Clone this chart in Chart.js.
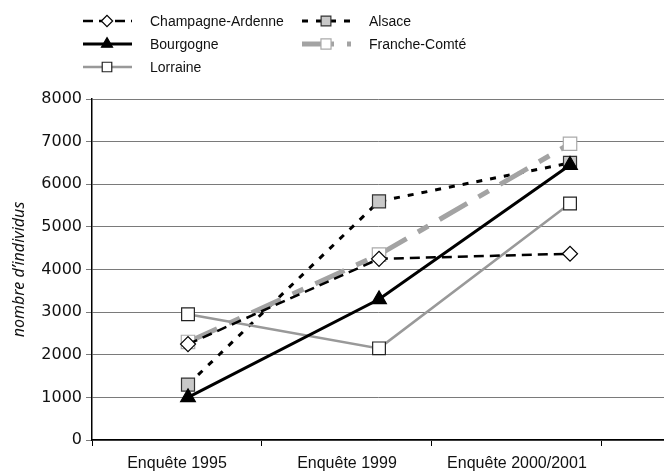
<!DOCTYPE html>
<html>
<head>
<meta charset="utf-8">
<script src="https://cdn.jsdelivr.net/npm/chart.js@4.4.0/dist/chart.umd.min.js"></script>
<style>
  html, body { margin: 0; padding: 0; background: #fff; }
  #wrap { width: 664px; height: 472px; }
</style>
</head>
<body>
<div id="wrap"><canvas id="chart" width="664" height="472"></canvas></div>
<script>
// categories and values
const surveys = ['Enquête 1995', 'Enquête 1999', 'Enquête 2000/2001'];
const champagneArdenne = [2250, 4250, 4370];
const alsace = [1300, 5600, 6500];
const bourgogne = [1000, 3300, 6450];
const francheComte = [2300, 4350, 6950];
const lorraine = [2950, 2150, 5550];
const yTicks = [0, 1000, 2000, 3000, 4000, 5000, 6000, 7000, 8000];

const toPoints = arr => arr.map((v, i) => ({ x: i, y: v }));

// z: higher is drawn on top
const series = [
    { label: 'Champagne-Ardenne', data: champagneArdenne, color: '#000', width: 2.5, dash: [10, 6],
      pointStyle: 'rectRot', radius: 7.5, fill: '#fff', pointBorder: '#000', z: 4 },
    { label: 'Alsace', data: alsace, color: '#000', width: 3, dash: [6, 8],
      pointStyle: 'rect', radius: 9.2, fill: '#c8c8c8', pointBorder: '#333', z: 1 },
    { label: 'Bourgogne', data: bourgogne, color: '#000', width: 3, dash: [],
      pointStyle: 'triangle', radius: 8.5, fill: '#000', pointBorder: '#000', z: 5 },
    { label: 'Franche-Comté', data: francheComte, color: '#a3a3a3', width: 5, dash: [32, 13, 12, 13],
      pointStyle: 'rect', radius: 9.5, fill: '#fff', pointBorder: '#aaa', z: 2 },
    { label: 'Lorraine', data: lorraine, color: '#999', width: 2.5, dash: [],
      pointStyle: 'rect', radius: 9, fill: '#fff', pointBorder: '#222', z: 3 }
];

// legend positions: [column x, row y]
const legendSlots = {
    'Champagne-Ardenne': [83, 21],
    'Bourgogne': [83, 44],
    'Lorraine': [83, 67],
    'Alsace': [302, 21],
    'Franche-Comté': [302, 44]
};

const legendPlugin = {
    id: 'sideLegend',
    afterDraw(chart) {
        const ctx = chart.ctx;
        chart.data.datasets.forEach(ds => {
            const [x, y] = legendSlots[ds.label];
            ctx.save();
            ctx.strokeStyle = ds.borderColor;
            ctx.lineWidth = ds.borderWidth;
            ctx.setLineDash(ds.borderDash);
            ctx.beginPath();
            ctx.moveTo(x, y);
            ctx.lineTo(x + 49, y);
            ctx.stroke();
            ctx.setLineDash([]);
            ctx.fillStyle = ds.pointBackgroundColor;
            ctx.strokeStyle = ds.pointBorderColor;
            ctx.lineWidth = 1.2;
            Chart.helpers.drawPoint(ctx, {
                pointStyle: ds.pointStyle,
                radius: ds.pointRadius * 0.75,
                rotation: 0,
                borderWidth: 1.2
            }, x + 24, y);
            ctx.fillStyle = '#111';
            ctx.font = '14px "Liberation Sans", Arial, sans-serif';
            ctx.textBaseline = 'middle';
            ctx.fillText(ds.label, x + 67, y + 1);
            ctx.restore();
        });
    }
};

new Chart(document.getElementById('chart'), {
    type: 'line',
    data: {
        datasets: series.map(s => ({
            label: s.label,
            data: toPoints(s.data),
            xAxisID: 'xd',
            borderColor: s.color,
            borderWidth: s.width,
            borderDash: s.dash,
            pointStyle: s.pointStyle,
            pointRadius: s.radius,
            pointBackgroundColor: s.fill,
            pointBorderColor: s.pointBorder,
            pointBorderWidth: 1.2,
            tension: 0,
            order: 10 - s.z
        }))
    },
    options: {
        responsive: false,
        animation: false,
        layout: { autoPadding: false, padding: { top: 99, right: 0, left: 0, bottom: 0 } },
        plugins: {
            legend: { display: false },
            tooltip: { enabled: false }
        },
        scales: {
            x: {
                type: 'linear',
                min: -0.5,
                max: 2.865,
                afterBuildTicks: scale => { scale.ticks = surveys.map((_, i) => ({ value: i })); },
                afterFit: scale => {
                    scale.height = 32;
                    scale.paddingLeft = 0;
                    scale.paddingRight = 0;
                },
                ticks: {
                    callback: v => surveys[v],
                    color: '#111',
                    font: { family: '"Liberation Sans", Arial, sans-serif', size: 16 },
                    maxRotation: 0,
                    padding: 8
                },
                grid: { offset: true, drawOnChartArea: false, color: '#000', tickLength: 6 },
                border: { color: '#000', width: 1.5 }
            },
            xd: {
                type: 'linear',
                display: false,
                min: -0.5026,
                max: 2.492
            },
            y: {
                min: 0,
                max: 8000,
                afterBuildTicks: scale => { scale.ticks = yTicks.map(v => ({ value: v })); },
                afterFit: scale => { scale.width = 92; },
                ticks: {
                    callback: v => String(v),
                    color: '#111',
                    font: { family: '"DejaVu Sans", sans-serif', size: 16 },
                    padding: 4
                },
                title: {
                    display: true,
                    text: 'nombre d\u2019individus',
                    color: '#111',
                    font: { family: '"Noto Sans", sans-serif', size: 16, style: 'italic' },
                    padding: { top: 10, bottom: 4 }
                },
                grid: { color: '#7a7a7a', lineWidth: 1, tickLength: 6 },
                border: { color: '#000', width: 1.5 }
            }
        }
    },
    plugins: [legendPlugin]
});
</script>
</body>
</html>
